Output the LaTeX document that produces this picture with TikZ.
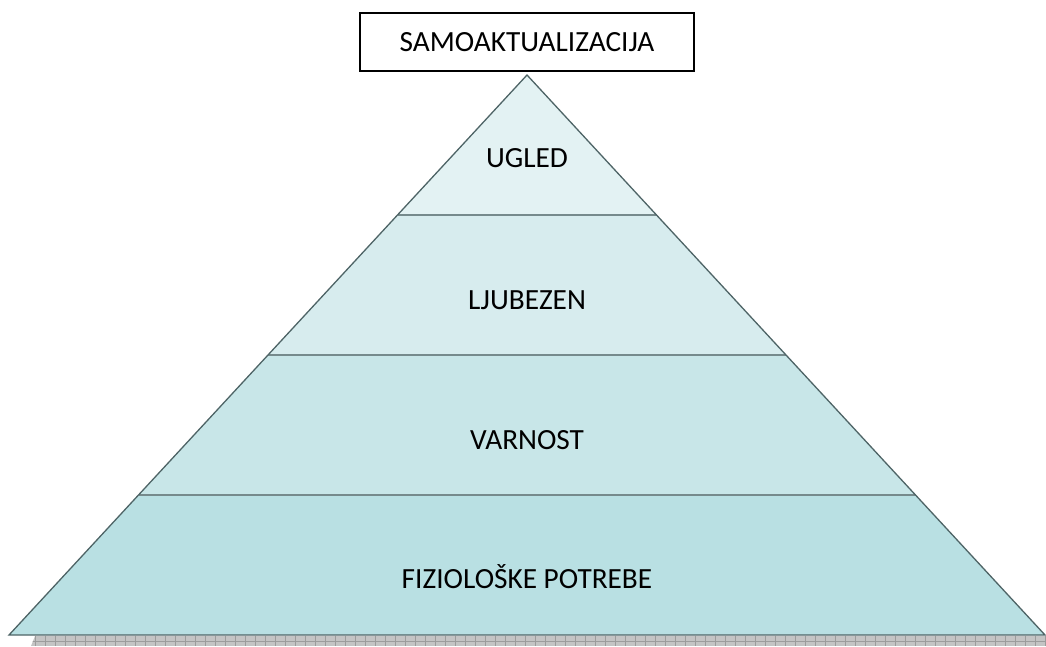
\documentclass[tikz,border=0pt]{standalone}
\usepackage{fontspec}
\setmainfont{Carlito}
\usetikzlibrary{calc}
\definecolor{layerA}{HTML}{E3F2F3}
\definecolor{layerB}{HTML}{D7ECEE}
\definecolor{layerC}{HTML}{C8E6E8}
\definecolor{layerD}{HTML}{B9E0E3}
\definecolor{edgecol}{HTML}{4E6466}
\definecolor{sepcol}{HTML}{768A8C}
\definecolor{shadowfill}{HTML}{C4C4C4}
\definecolor{shadowgrid}{HTML}{9C9C9C}
\tikzset{
  lbl/.style={font=\fontsize{29.3}{32}\selectfont, text=black, inner sep=0pt},
  topbox/.style={draw=black, line width=1.3pt, fill=white, minimum width=334pt, minimum height=58pt, font=\fontsize{29.3}{32}\selectfont, inner sep=0pt},
  separator/.style={draw=sepcol, line width=2.4pt},
  outline/.style={draw=edgecol, line width=1.3pt, line join=miter}
}
\begin{document}
\begin{tikzpicture}[x=1pt,y=-1pt]
\useasboundingbox (0,0) rectangle (1046,646);
% corners of the pyramid
\coordinate (apex) at (527,75);
\coordinate (bl) at (9,635);
\coordinate (br) at (1045,635);
% band boundaries on both sides
\foreach \t/\n in {0.25/a,0.5/b,0.75/c}{
  \coordinate (l\n) at ($(apex)!\t!(bl)$);
  \coordinate (r\n) at ($(apex)!\t!(br)$);
}
% ground shadow with grid texture
\begin{scope}
  \clip (35,636) -- (1046,636) -- (1046,646) -- (31,646) -- cycle;
  \fill[shadowfill] (0,636) rectangle (1046,646);
  \foreach \x in {35,45,...,1045} \draw[shadowgrid, line width=0.8pt] (\x,636) -- (\x,646);
  \draw[shadowgrid, line width=0.8pt] (0,641.5) -- (1046,641.5);
\end{scope}
% bands
\fill[layerA] (apex) -- (ra) -- (la) -- cycle;
\fill[layerB] (la) -- (ra) -- (rb) -- (lb) -- cycle;
\fill[layerC] (lb) -- (rb) -- (rc) -- (lc) -- cycle;
\fill[layerD] (lc) -- (rc) -- (br) -- (bl) -- cycle;
% separators
\draw[separator] (la) -- (ra);
\draw[separator] (lb) -- (rb);
\draw[separator] (lc) -- (rc);
% outline
\draw[outline] (apex) -- (br) -- (bl) -- cycle;
% labels
\node[lbl] (ugled) at (527,158) {UGLED};
\node[lbl] (ljubezen) at (527,300) {LJUBEZEN};
\node[lbl] (varnost) at (527,440) {VARNOST};
\node[lbl] (fizio) at (527,577) {FIZIOLOŠKE POTREBE};
\node[topbox] (samo) at (527,42) {SAMOAKTUALIZACIJA};
\end{tikzpicture}
\end{document}
